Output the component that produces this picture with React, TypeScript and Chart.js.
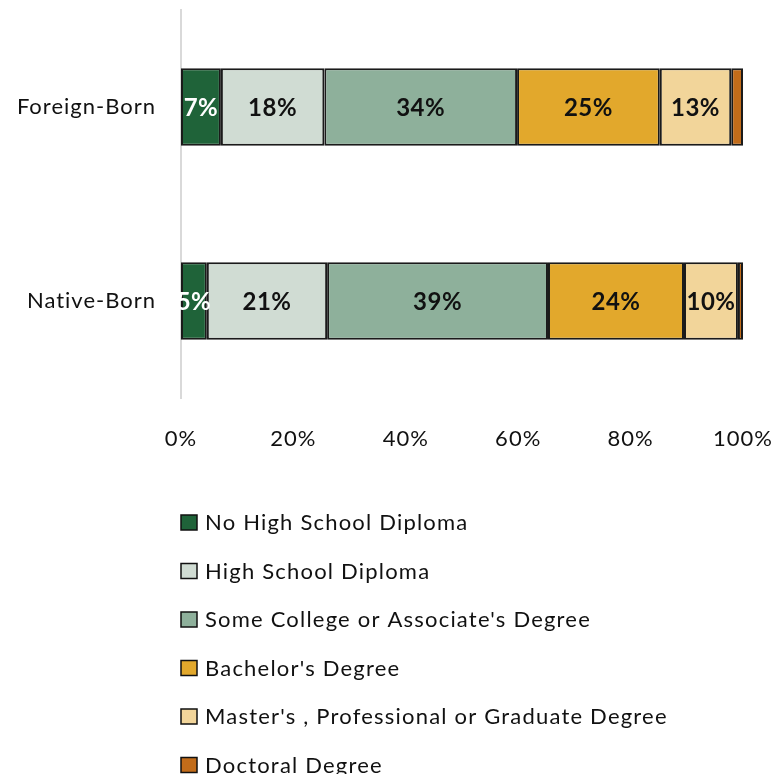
import React, { useEffect, useRef } from "react";
import { Chart, registerables } from "chart.js";

Chart.register(...registerables);

const categories = ["Foreign-Born", "Native-Born"];
const seriesNames = [
  "No High School Diploma",
  "High School Diploma",
  "Some College or Associate's Degree",
  "Bachelor's Degree",
  "Master's , Professional or Graduate Degree",
  "Doctoral Degree",
];
const noHighSchool = [7.1, 4.6];
const highSchool = [18.4, 21.4];
const someCollege = [34.3, 39.3];
const bachelors = [25.4, 24.2];
const masters = [12.7, 9.6];
const doctoral = [2.1, 0.9];
const seriesColors = ["#1f6339", "#d0dcd3", "#8eb09b", "#e2a82c", "#f2d59a", "#c26c1a"];
const labelColors = ["#ffffff", "#111111", "#111111", "#111111", "#111111", null];
const xTicks = [0, 20, 40, 60, 80, 100];

const FONT = "Lato, 'Open Sans', sans-serif";

const spacingPlugin = {
  id: "spacing",
  beforeDraw(chart: any) {
    chart.ctx.letterSpacing = "1px";
  },
};

const barLabelPlugin = {
  id: "barLabels",
  afterDatasetsDraw(chart: any) {
    const ctx = chart.ctx;
    ctx.save();
    ctx.letterSpacing = "0.5px";
    ctx.font = `bold 24px ${FONT}`;
    ctx.textAlign = "center";
    ctx.textBaseline = "middle";
    chart.data.datasets.forEach((ds: any, di: number) => {
      const color = labelColors[di];
      if (!color) return;
      const meta = chart.getDatasetMeta(di);
      meta.data.forEach((bar: any, i: number) => {
        const { x, base, y } = bar.getProps(["x", "base", "y"], true);
        ctx.fillStyle = color;
        ctx.fillText(Math.round(ds.data[i]) + "%", (x + base) / 2, y + 1);
      });
    });
    ctx.restore();
  },
};

const listLegendPlugin = {
  id: "listLegend",
  afterDraw(chart: any) {
    const ctx = chart.ctx;
    const left = chart.chartArea.left;
    const startY = chart.chartArea.bottom + 124;
    const step = 48.5;
    ctx.save();
    ctx.letterSpacing = "1.2px";
    ctx.font = `22px ${FONT}`;
    ctx.textAlign = "left";
    ctx.textBaseline = "middle";
    chart.data.datasets.forEach((ds: any, i: number) => {
      const cy = startY + i * step;
      ctx.fillStyle = ds.backgroundColor;
      ctx.fillRect(left, cy - 7, 16, 15);
      ctx.strokeStyle = "#111111";
      ctx.lineWidth = 1.5;
      ctx.strokeRect(left, cy - 7, 16, 15);
      ctx.fillStyle = "#111111";
      ctx.fillText(ds.label, left + 24, cy + 1);
    });
    ctx.restore();
  },
};

export default function App() {
  const ref = useRef<HTMLCanvasElement>(null);
  useEffect(() => {
    const values = [noHighSchool, highSchool, someCollege, bachelors, masters, doctoral];
    const chart = new Chart(ref.current!, {
      type: "bar",
      data: {
        labels: categories,
        datasets: seriesNames.map((name, i) => ({
          label: name,
          data: values[i],
          backgroundColor: seriesColors[i],
          borderColor: "#1a1a1a",
          borderWidth: 2,
          borderSkipped: false,
          categoryPercentage: 1,
          barPercentage: 0.4,
        })),
      },
      options: {
        indexAxis: "y",
        animation: false,
        responsive: true,
        maintainAspectRatio: false,
        layout: { padding: { top: 10, right: 41, bottom: 316, left: 0 } },
        plugins: { legend: { display: false }, title: { display: false }, tooltip: { enabled: false } },
        scales: {
          x: {
            stacked: true,
            min: 0,
            max: 100,
            afterBuildTicks: (s: any) => {
              s.ticks = xTicks.map((v) => ({ value: v }));
            },
            afterFit: (s: any) => {
              s.height = 60;
              s.paddingLeft = 0;
              s.paddingRight = 0;
              s.paddingTop = 0;
              s.paddingBottom = 0;
            },
            grid: { display: false, drawTicks: false },
            border: { display: false },
            ticks: {
              padding: 28,
              color: "#111111",
              font: { family: FONT, size: 22 },
              callback: (v: any) => v + "%",
            },
          },
          y: {
            stacked: true,
            afterFit: (s: any) => {
              s.width = 181;
              s.paddingLeft = 0;
              s.paddingRight = 0;
              s.paddingTop = 0;
              s.paddingBottom = 0;
            },
            grid: { display: false, drawTicks: false },
            border: { display: true, color: "#d9d9d9", width: 2 },
            ticks: {
              padding: 25,
              color: "#111111",
              font: { family: FONT, size: 22 },
            },
          },
        },
      },
      plugins: [spacingPlugin, barLabelPlugin, listLegendPlugin],
    });
    return () => chart.destroy();
  }, []);
  return (
    <div style={{ position: "fixed", left: 0, top: 0, width: 784, height: 774, background: "#fff" }}>
      <canvas ref={ref} />
    </div>
  );
}
